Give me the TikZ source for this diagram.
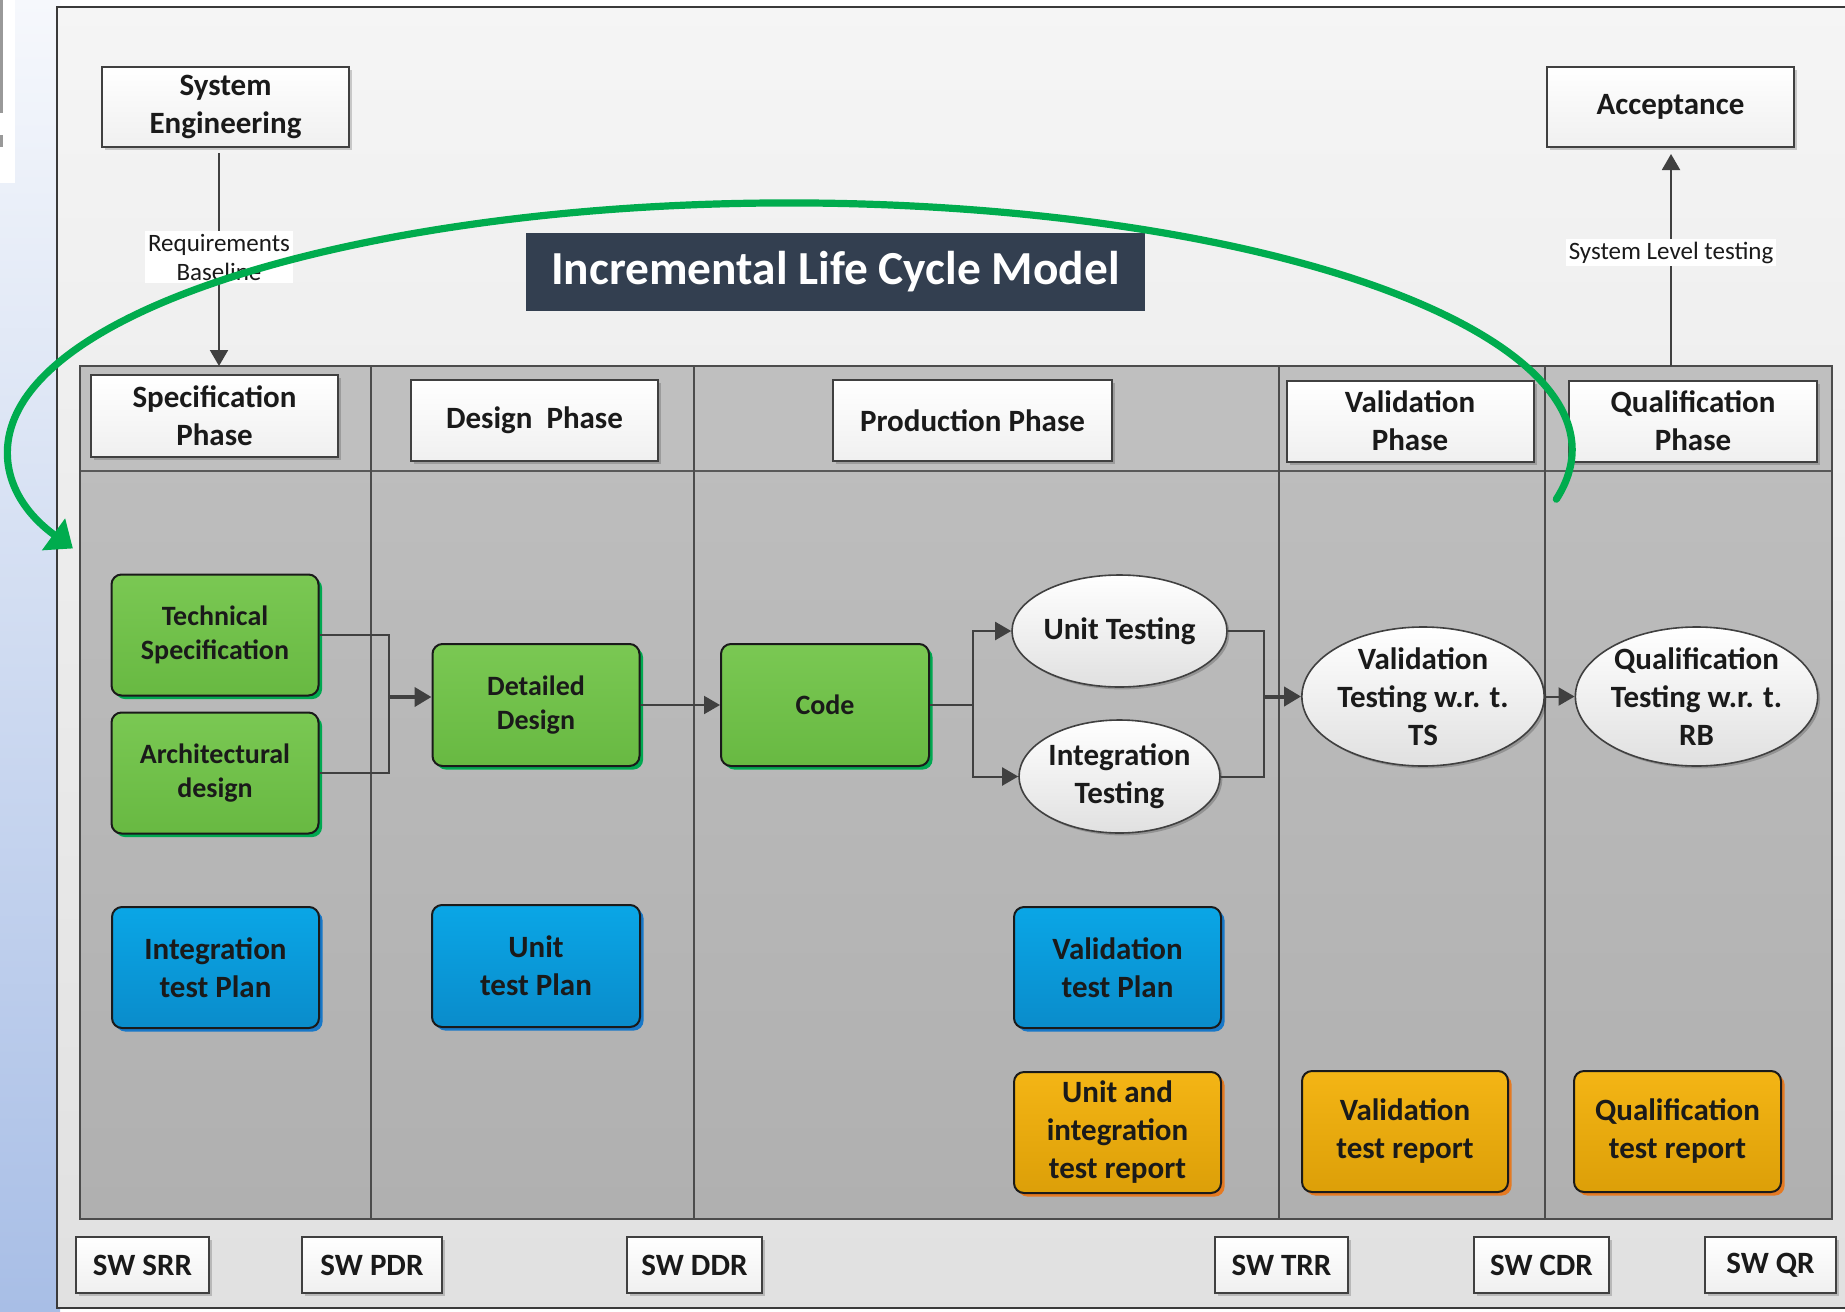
\documentclass[tikz,border=0pt]{standalone}
\usepackage{fontspec}
\setmainfont{Carlito}
\usetikzlibrary{arrows.meta,shadows,shapes.geometric}

\definecolor{ink}{HTML}{1A1A1A}
\definecolor{wire}{HTML}{404040}
\definecolor{frameline}{HTML}{3A3A3A}
\definecolor{bandgray}{HTML}{BFBFBF}
\definecolor{titlebg}{HTML}{333F50}
\definecolor{loopgreen}{HTML}{00AC4E}
\definecolor{gtop}{HTML}{7AC853}
\definecolor{gbot}{HTML}{68B942}
\definecolor{gshade}{HTML}{00A850}
\definecolor{btop}{HTML}{0AA6E6}
\definecolor{bbot}{HTML}{0A8CCB}
\definecolor{bshade}{HTML}{1878C8}
\definecolor{otop}{HTML}{F4B515}
\definecolor{obot}{HTML}{DC9F08}
\definecolor{oshade}{HTML}{E57A22}
\definecolor{stripTop}{HTML}{F6F8FC}
\definecolor{stripMid}{HTML}{C4D3EF}
\definecolor{stripBot}{HTML}{A8BEE6}

\newcommand\fHdr{\fontsize{15.5}{19}\selectfont\bfseries}
\newcommand\fBox{\fontsize{15.5}{19}\selectfont\bfseries}
\newcommand\fGrn{\fontsize{14}{17}\selectfont\bfseries}
\newcommand\fLbl{\fontsize{12.5}{14.5}\selectfont}

\begin{document}
\begin{tikzpicture}[x=0.5pt,y=-0.5pt,
  hdr/.style={draw=wire, line width=1pt, top color=white, bottom color=black!6,
    minimum width=#1, inner sep=0pt, align=center, text=ink, font=\fHdr,
    drop shadow={shadow xshift=1.5pt, shadow yshift=-1.5pt, fill=black, opacity=0.18}},
  swbox/.style={hdr=#1, minimum height=28pt, font=\fHdr},
  roundbox/.style={draw=ink, line width=1pt, rounded corners=5pt, inner sep=0pt,
    minimum width=103.5pt, minimum height=60.5pt, align=center, text=ink, font=\fBox},
  gbox/.style={roundbox, top color=gtop, bottom color=gbot, font=\fGrn,
    drop shadow={shadow xshift=1.8pt, shadow yshift=-1.8pt, fill=gshade, opacity=1}},
  bbox/.style={roundbox, top color=btop, bottom color=bbot,
    drop shadow={shadow xshift=1.8pt, shadow yshift=-1.8pt, fill=bshade, opacity=1}},
  obox/.style={roundbox, top color=otop, bottom color=obot,
    drop shadow={shadow xshift=1.8pt, shadow yshift=-1.8pt, fill=oshade, opacity=1}},
  ell/.style={ellipse, draw=wire, line width=0.8pt, top color=white, bottom color=black!12,
    inner sep=0pt, align=center, text=ink, font=\fBox,
    drop shadow={shadow xshift=1.2pt, shadow yshift=-1.2pt, fill=black, opacity=0.2}},
  conn/.style={draw=wire, line width=1pt},
  arr/.style={conn, -{Triangle[length=8pt,width=9pt]}},
  thickarr/.style={draw=wire, line width=2pt, -{Triangle[length=8.5pt,width=9.5pt]}},
  lbl/.style={fill=white, text=ink, font=\fLbl, align=center, inner sep=1.5pt},
  loop/.style={draw=loopgreen, line width=3.6pt, line cap=round,
    -{Triangle[length=12pt,width=19pt]}}
]
\useasboundingbox (0,0) rectangle (1845,1311);
\clip (0,0) rectangle (1845,1311);

% page background: slide edge on the left
\shade[top color=stripTop, middle color=stripMid, bottom color=stripBot]
  (0,0) rectangle (60,1311);
\fill[white] (0,0) rectangle (15,183);
\fill[black!40] (0,0) rectangle (3,113);
\fill[black!40] (0,135) rectangle (3,147);

% outer frame
\shade[top color=black!4, bottom color=black!12] (57,7) rectangle (1870,1308);
\draw[frameline, line width=1pt] (1870,7) -- (57,7) -- (57,1308) -- (1870,1308);

% swimlane pool
\fill[bandgray] (80,366) rectangle (1832,471);
\shade[top color=black!26, bottom color=black!31] (80,471) rectangle (1832,1219);
\draw[black!65, line width=0.8pt] (80,471) -- (1832,471);
\foreach \lx in {371,694,1279,1545}
  \draw[black!70, line width=0.6pt] (\lx,366) -- (\lx,1219);
\draw[black!70, line width=1.2pt] (80,366) rectangle (1832,1219);

% top boxes
\node[hdr=123.5pt, minimum height=40pt] (sysEng) at (225.5,107) {System\\Engineering};
\node[hdr=123.5pt, minimum height=40pt] (accept) at (1670.5,107) {Acceptance};

% phase headers
\node[hdr=123.5pt, minimum height=41pt] (specPh) at (214.5,416) {Specification\\Phase};
\node[hdr=123.5pt, minimum height=40.5pt] (desPh) at (534.5,420.5) {Design\ \ Phase};
\node[hdr=139.5pt, minimum height=40.5pt] (prodPh) at (972.5,420.5) {Production Phase};
\node[hdr=123.5pt, minimum height=40.5pt] (valPh) at (1410,421) {Validation\\Phase};
\node[hdr=124pt, minimum height=40.5pt] (qualPh) at (1693,421) {Qualification\\Phase};

% title banner
\node[fill=titlebg, text=white, minimum width=309.5pt, minimum height=39pt, inner sep=0pt,
  font=\fontsize{23.7}{28}\selectfont\bfseries] (title) at (835.5,272) {Incremental Life Cycle Model};

% work products
\node[gbox] (tech) at (215,635) {Technical\\Specification};
\node[gbox] (arch) at (215,773) {Architectural\\design};
\node[gbox, minimum height=61pt] (detail) at (536,705) {Detailed\\Design};
\node[gbox, minimum width=104pt, minimum height=61pt] (code) at (825,705) {Code};

\node[ell, minimum width=100.5pt, minimum height=56pt] (unit) at (1119.5,631) {Unit Testing};
\node[ell, minimum width=100.5pt, minimum height=56.5pt] (integ) at (1119.5,776.5) {Integration\\Testing};
\node[ell, minimum width=115pt, minimum height=69.5pt] (valT) at (1423,696.5) {Validation\\Testing w.r. t.\\TS};
\node[ell, minimum width=111.5pt, minimum height=69.5pt] (qualT) at (1696.5,696.5) {Qualification\\Testing w.r. t.\\RB};

\node[bbox] (itp) at (215.5,967.5) {Integration\\test Plan};
\node[bbox, minimum width=104pt, minimum height=61pt] (utp) at (536,966) {Unit\\test Plan};
\node[bbox] (vtp) at (1117.5,967.5) {Validation\\test Plan};

\node[obox] (uitr) at (1117.5,1132.5) {Unit and\\integration\\test report};
\node[obox, minimum width=103pt] (vtr) at (1405,1131.5) {Validation\\test report};
\node[obox] (qtr) at (1677.5,1131.5) {Qualification\\test report};

% review milestones
\node[swbox=66.5pt] (srr) at (142.5,1265) {SW SRR};
\node[swbox=70pt] (pdr) at (372,1265) {SW PDR};
\node[swbox=67.5pt] (ddr) at (694.5,1265) {SW DDR};
\node[swbox=66.5pt] (trr) at (1281.5,1265) {SW TRR};
\node[swbox=67.5pt] (cdr) at (1541.5,1265) {SW CDR};
\node[swbox=65.5pt] (qr) at (1770.5,1265) {SW QR};

% connectors
\coordinate (specTop) at (219,366);
\coordinate (qualTop) at (1671,366);
\draw[arr, shorten <=2.5pt] (sysEng.south -| specTop) -- (specTop)
  node[lbl, midway] {Requirements\\Baseline};
\draw[arr, shorten >=3pt] (qualTop) -- (qualTop |- accept.south)
  node[lbl, pos=0.52] {System Level testing};

\coordinate (m1) at (389,697);
\draw[conn] (tech.east) -| (m1) |- (arch.east);
\draw[thickarr] (m1) -- (m1 -| detail.west);
\draw[arr] (detail.east) -- (code.west);

\coordinate (b1) at (973,705);
\draw[conn] (code.east) -- (b1);
\draw[arr] (b1) |- (unit.west);
\draw[arr] (b1) |- (integ.west);

\coordinate (m2) at (1264,696.5);
\draw[conn] (unit.east) -| (m2) |- (integ.east);
\draw[thickarr] (m2) -- (valT.west);
\draw[arr] (valT.east) -- (qualT.west);

% increment loop back to the specification phase (elliptic arc)
\coordinate (loopStart) at (1556.3,499.2);
\draw[loop] (loopStart) arc[start angle=-11.5, end angle=203.5, x radius=391pt, y radius=123.5pt];
\end{tikzpicture}
\end{document}
